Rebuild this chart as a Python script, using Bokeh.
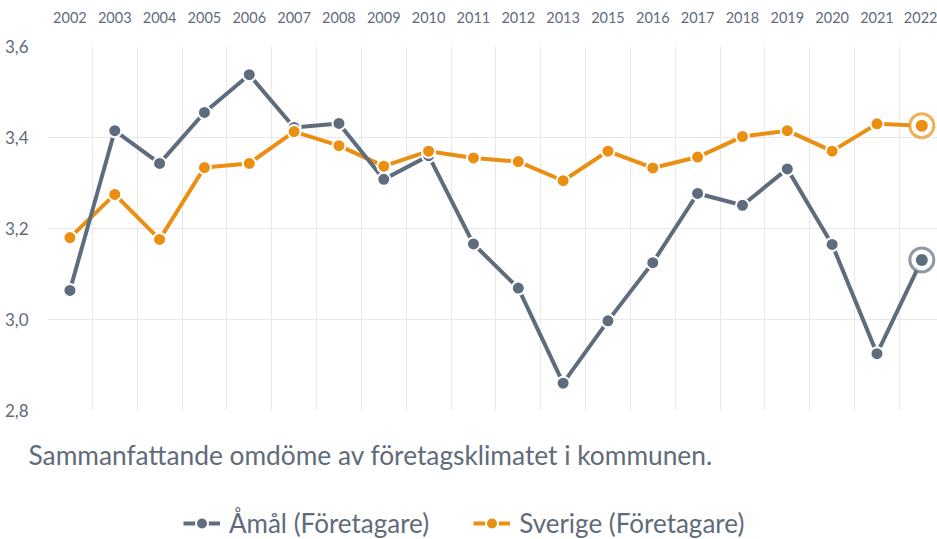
from bokeh.plotting import figure
from bokeh.layouts import column
from bokeh.models import Range1d, FixedTicker, Legend, LegendItem, Title
from bokeh.embed import file_html
from bokeh.resources import INLINE

years = ["2002", "2003", "2004", "2005", "2006", "2007", "2008", "2009", "2010",
         "2011", "2012", "2013", "2015", "2016", "2017", "2018", "2019", "2020",
         "2021", "2022"]
amal = [3.064, 3.415, 3.343, 3.455, 3.538, 3.422, 3.431, 3.308, 3.360, 3.166,
        3.069, 2.860, 2.997, 3.125, 3.277, 3.251, 3.331, 3.165, 2.925, 3.131]
sverige = [3.180, 3.275, 3.176, 3.334, 3.343, 3.413, 3.382, 3.337, 3.370, 3.355,
           3.347, 3.305, 3.370, 3.333, 3.357, 3.402, 3.415, 3.370, 3.430, 3.426]
y_ticks = [2.8, 3.0, 3.2, 3.4, 3.6]
y_tick_labels = ["2,8", "3,0", "3,2", "3,4", "3,6"]
series_names = ["Åmål (Företagare)", "Sverige (Företagare)"]
caption = "Sammanfattande omdöme av företagsklimatet i kommunen."

GREY = "#5e6d7d"
ORANGE = "#ea8f12"
TEXT = "#5f6b7a"
GRID = "#e8e8eb"
FONT = "Lato"

xs = list(range(len(years)))

p = figure(width=937, height=500,
           x_range=Range1d(-0.5, 19.35), y_range=Range1d(2.8, 3.6),
           x_axis_location="above",
           output_backend="svg", toolbar_location=None,
           min_border_left=47, min_border_right=0,
           min_border_top=46, min_border_bottom=90)
p.outline_line_color = None
p.background_fill_color = "white"
p.border_fill_color = "white"

xa = p.xaxis[0]
xa.ticker = FixedTicker(ticks=xs)
xa.major_label_overrides = {i: y for i, y in zip(xs, years)}
xa.axis_line_color = None
xa.major_tick_line_color = None
xa.minor_tick_line_color = None
xa.major_label_text_font = FONT
xa.major_label_text_font_size = "14.5px"
xa.major_label_text_color = TEXT
xa.major_label_standoff = 18

ya = p.yaxis[0]
ya.ticker = FixedTicker(ticks=y_ticks)
ya.major_label_overrides = {t: l for t, l in zip(y_ticks, y_tick_labels)}
ya.axis_line_color = None
ya.major_tick_line_color = None
ya.minor_tick_line_color = None
ya.major_label_text_font = FONT
ya.major_label_text_font_size = "17px"
ya.major_label_text_color = TEXT
ya.major_label_standoff = 13

p.xgrid.ticker = FixedTicker(ticks=[i - 0.5 for i in range(len(years) + 1)])
p.xgrid.grid_line_color = GRID
p.ygrid.grid_line_color = GRID

p.line(xs, sverige, line_width=4, line_color=ORANGE)
p.line(xs, amal, line_width=4, line_color=GREY)
p.scatter(xs, amal, size=13, fill_color=GREY, line_color="white", line_width=2)
p.scatter(xs, sverige, size=13, fill_color=ORANGE, line_color="white", line_width=2)

for vals, col in ((amal, GREY), (sverige, ORANGE)):
    p.scatter([xs[-1]], [vals[-1]], size=24, fill_color="white",
              line_color=col, line_alpha=0.7, line_width=3)
    p.scatter([xs[-1]], [vals[-1]], size=12, fill_color=col, line_color=None)

cap = Title(text=caption, align="left", offset=-19, text_font=FONT,
            text_font_size="26.3px", text_font_style="normal", text_color=TEXT,
            standoff=52)
p.add_layout(cap, "below")

# lower strip: legend (ranges in pixels, series proxies fall outside the view)
q = figure(width=937, height=39, x_range=Range1d(47, 937), y_range=Range1d(-39, 0),
           x_axis_type=None, y_axis_type=None,
           output_backend="svg", toolbar_location=None,
           min_border_left=47, min_border_right=0, min_border_top=0, min_border_bottom=0)
q.outline_line_color = None
q.xgrid.visible = False
q.ygrid.visible = False
q.background_fill_color = "white"
q.border_fill_color = "white"

items = []
for name, vals, col in zip(series_names, (amal, sverige), (GREY, ORANGE)):
    ln = q.line(xs, vals, line_width=4, line_color=col)
    sc = q.scatter(xs, vals, size=13, fill_color=col, line_color="white", line_width=2)
    items.append(LegendItem(label=name, renderers=[ln, sc]))

legend = Legend(items=items, orientation="horizontal", location=(136, 0),
                label_text_font=FONT, label_text_font_size="26px",
                label_text_color=TEXT, glyph_width=37, glyph_height=30,
                spacing=44, label_standoff=9, padding=0, margin=0,
                border_line_color=None, background_fill_alpha=0)
q.add_layout(legend, "center")

layout = column(p, q, spacing=0)
open("out.html", "w").write(file_html(layout, INLINE))
